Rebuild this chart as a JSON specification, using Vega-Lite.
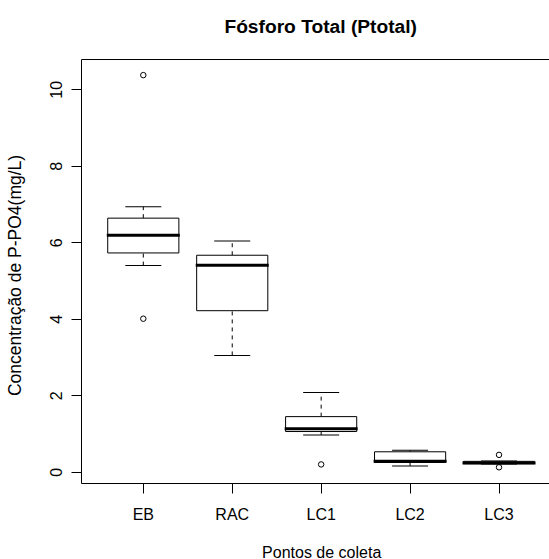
{
  "$schema": "https://vega.github.io/schema/vega-lite/v6.json",
  "autosize": {"type": "none"},
  "padding": {"left": 81, "top": 59, "right": 0, "bottom": 76},
  "width": 468,
  "height": 424,
  "background": "white",
  "title": {
    "text": "Fósforo Total (Ptotal)",
    "font": "Liberation Sans",
    "fontSize": 19.2,
    "fontWeight": "bold",
    "color": "black",
    "anchor": "middle",
    "frame": "group",
    "baseline": "alphabetic",
    "dx": 5.7,
    "offset": 7
  },
  "datasets": {
    "boxes": [
      {"ponto": "EB", "min": 5.39, "q1": 5.72, "mediana": 6.18, "q3": 6.63, "max": 6.93},
      {"ponto": "RAC", "min": 3.04, "q1": 4.21, "mediana": 5.4, "q3": 5.66, "max": 6.03},
      {"ponto": "LC1", "min": 0.96, "q1": 1.05, "mediana": 1.12, "q3": 1.44, "max": 2.07},
      {"ponto": "LC2", "min": 0.15, "q1": 0.24, "mediana": 0.27, "q3": 0.52, "max": 0.56},
      {"ponto": "LC3", "min": 0.2, "q1": 0.21, "mediana": 0.23, "q3": 0.27, "max": 0.28}
    ],
    "outliers": [
      {"ponto": "EB", "valor": 10.37},
      {"ponto": "EB", "valor": 4.0},
      {"ponto": "LC1", "valor": 0.19},
      {"ponto": "LC3", "valor": 0.44},
      {"ponto": "LC3", "valor": 0.115}
    ]
  },
  "resolve": {"axis": {"x": "independent"}},
  "layer": [
    {
      "data": {"name": "boxes"},
      "mark": {"type": "rule", "color": "black", "strokeWidth": 1, "strokeDash": [4, 4]},
      "encoding": {
        "x": {
          "field": "ponto", "type": "nominal", "sort": null,
          "scale": {"type": "band", "domain": ["EB", "RAC", "LC1", "LC2", "LC3"], "paddingInner": 0.2, "paddingOuter": 0.2313, "align": 0.6497},
          "axis": {
            "orient": "bottom", "title": "Pontos de coleta", "domain": true, "domainColor": "black",
            "bandPosition": 0.5, "ticks": true, "tickSize": 10, "tickColor": "black", "grid": false,
            "labelAngle": 0, "labelFont": "Liberation Sans", "labelFontSize": 16, "labelColor": "black",
            "labelBaseline": "alphabetic", "labelAlign": "center", "labelPadding": 26.5,
            "titleFont": "Liberation Sans", "titleFontSize": 16, "titleFontWeight": "normal", "titleColor": "black",
            "titleBaseline": "alphabetic", "titleAlign": "center", "titleX": 240.2, "titleY": 74
          }
        },
        "y": {
          "field": "q3", "type": "quantitative",
          "scale": {"domain": [-0.296, 10.792], "nice": false, "zero": false},
          "axis": {
            "orient": "left", "title": "Concentração de P-PO4(mg/L)", "values": [0, 2, 4, 6, 8, 10],
            "domain": true, "domainColor": "black", "ticks": true, "tickSize": 10, "tickColor": "black", "grid": false,
            "labelAngle": 270, "labelFont": "Liberation Sans", "labelFontSize": 16, "labelColor": "black",
            "labelAlign": "center", "labelBaseline": "alphabetic", "labelPadding": 10,
            "titleFont": "Liberation Sans", "titleFontSize": 17.5, "titleFontWeight": "normal", "titleColor": "black",
            "titleAngle": 270, "titleAlign": "center", "titleBaseline": "alphabetic", "titleX": -60.3, "titleY": 216
          }
        },
        "y2": {"field": "max"}
      }
    },
    {
      "data": {"name": "boxes"},
      "mark": {"type": "rule", "color": "black", "strokeWidth": 1, "strokeDash": [4, 4]},
      "encoding": {
        "x": {
          "field": "ponto", "type": "nominal", "sort": null,
          "axis": {"orient": "top", "title": null, "labels": false, "ticks": false, "grid": false, "domain": true, "domainColor": "black"}
        },
        "y": {"field": "min", "type": "quantitative"},
        "y2": {"field": "q1"}
      }
    },
    {
      "data": {"name": "boxes"},
      "mark": {"type": "tick", "color": "black", "opacity": 1, "thickness": 1, "size": 36},
      "encoding": {
        "x": {"field": "ponto", "type": "nominal", "sort": null, "axis": null},
        "y": {"field": "max", "type": "quantitative"}
      }
    },
    {
      "data": {"name": "boxes"},
      "mark": {"type": "tick", "color": "black", "opacity": 1, "thickness": 1, "size": 36},
      "encoding": {
        "x": {"field": "ponto", "type": "nominal", "sort": null, "axis": null},
        "y": {"field": "min", "type": "quantitative"}
      }
    },
    {
      "data": {"name": "boxes"},
      "mark": {"type": "bar", "fill": "white", "stroke": "black", "strokeWidth": 1, "opacity": 1},
      "encoding": {
        "x": {"field": "ponto", "type": "nominal", "sort": null, "axis": null},
        "y": {"field": "q1", "type": "quantitative"},
        "y2": {"field": "q3"}
      }
    },
    {
      "data": {"name": "boxes"},
      "mark": {"type": "tick", "color": "black", "opacity": 1, "thickness": 3, "size": 73},
      "encoding": {
        "x": {"field": "ponto", "type": "nominal", "sort": null, "axis": null},
        "y": {"field": "mediana", "type": "quantitative"}
      }
    },
    {
      "data": {"name": "outliers"},
      "mark": {"type": "point", "shape": "circle", "filled": false, "color": "black", "opacity": 1, "size": 30, "strokeWidth": 1},
      "encoding": {
        "x": {"field": "ponto", "type": "nominal", "sort": null, "axis": null},
        "y": {"field": "valor", "type": "quantitative"}
      }
    }
  ],
  "config": {
    "view": {"stroke": null},
    "font": "Liberation Sans"
  }
}
